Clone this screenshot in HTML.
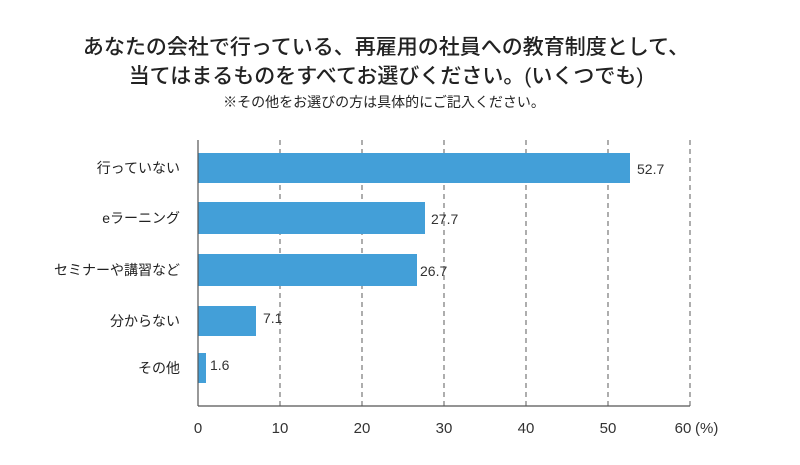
<!DOCTYPE html>
<html><head><meta charset="utf-8"><style>
body{margin:0;background:#fff;}
svg text{font-family:"Liberation Sans","Noto Sans CJK JP",sans-serif;fill:#222;}
</style></head><body>
<svg width="800" height="460" xmlns="http://www.w3.org/2000/svg">
<text x="386" y="54" font-size="21" text-anchor="middle" font-weight="500">あなたの会社で行っている、再雇用の社員への教育制度として、</text>
<text x="386" y="83" font-size="21" text-anchor="middle" font-weight="500">当てはまるものをすべてお選びください。(いくつでも)</text>
<text x="384" y="107" font-size="14" text-anchor="middle">※その他をお選びの方は具体的にご記入ください。</text>
<g stroke="#777" stroke-width="1.2" stroke-dasharray="5,4">
<line x1="280" y1="140" x2="280" y2="406"/>
<line x1="362" y1="140" x2="362" y2="406"/>
<line x1="444" y1="140" x2="444" y2="406"/>
<line x1="526" y1="140" x2="526" y2="406"/>
<line x1="608" y1="140" x2="608" y2="406"/>
<line x1="690" y1="140" x2="690" y2="406"/>
</g>
<g fill="#439fd8">
<rect x="198" y="153" width="432" height="30"/>
<rect x="198" y="202" width="227" height="32"/>
<rect x="198" y="254" width="219" height="32"/>
<rect x="198" y="306" width="58" height="30"/>
<rect x="198" y="353" width="8" height="30"/>
</g>
<line x1="198" y1="140" x2="198" y2="406" stroke="#555" stroke-width="1.2"/>
<line x1="198" y1="406" x2="690" y2="406" stroke="#555" stroke-width="1.2"/>
<g font-size="14" text-anchor="end">
<text x="180" y="173">行っていない</text>
<text x="180" y="223">eラーニング</text>
<text x="180" y="275">セミナーや講習など</text>
<text x="180" y="326">分からない</text>
<text x="180" y="373">その他</text>
</g>
<g font-size="14" style="fill:#333">
<text x="637" y="174" style="fill:#333">52.7</text>
<text x="431" y="224" style="fill:#333">27.7</text>
<text x="420" y="276" style="fill:#333">26.7</text>
<text x="263" y="323" style="fill:#333">7.1</text>
<text x="210" y="370" style="fill:#333">1.6</text>
</g>
<g font-size="15" text-anchor="middle">
<text x="198" y="433" style="fill:#333">0</text>
<text x="280" y="433" style="fill:#333">10</text>
<text x="362" y="433" style="fill:#333">20</text>
<text x="444" y="433" style="fill:#333">30</text>
<text x="526" y="433" style="fill:#333">40</text>
<text x="608" y="433" style="fill:#333">50</text>
<text x="683" y="433" style="fill:#333">60</text>
</g>
<text x="695" y="433" font-size="15" style="fill:#333">(%)</text>
</svg>
</body></html>
